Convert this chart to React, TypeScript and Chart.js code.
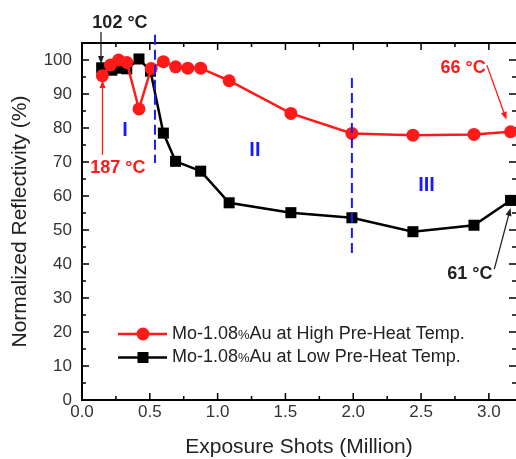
import React, { useEffect, useRef } from 'react';
import { Chart, registerables } from 'chart.js';
Chart.register(...registerables);

const FONT = "'Liberation Sans', Arial, sans-serif";

const highX = [0.15, 0.21, 0.27, 0.33, 0.42, 0.51, 0.6, 0.69, 0.78, 0.875, 1.085, 1.54, 1.99, 2.44, 2.89, 3.16];
const highY = [95.4, 98.5, 100, 99.3, 85.6, 97.5, 99.5, 98, 97.6, 97.6, 93.9, 84.3, 78.4, 77.9, 78.1, 78.9];
const lowX = [0.145, 0.22, 0.28, 0.33, 0.42, 0.505, 0.6, 0.69, 0.875, 1.085, 1.54, 1.99, 2.44, 2.89, 3.16];
const lowY = [97.7, 97.0, 97.6, 97.4, 100.3, 96.7, 78.5, 70.2, 67.3, 58, 55.1, 53.6, 49.5, 51.4, 58.7];

const seriesLabels = ['Mo-1.08%Au at High Pre-Heat Temp.', 'Mo-1.08%Au at Low Pre-Heat Temp.'];
const xTickMajor = [0, 0.5, 1, 1.5, 2, 2.5, 3];
const xTickMinor = [0.25, 0.75, 1.25, 1.75, 2.25, 2.75];
const yTickMajor = [0, 10, 20, 30, 40, 50, 60, 70, 80, 90, 100];
const yTickMinor = [5, 15, 25, 35, 45, 55, 65, 75, 85, 95];

// region dividers: [x, yFrom, yTo]
const dividers = [
  [0.538, 107.4, 69.7],
  [1.99, 94.7, 42.4],
];
const regionLabels = [
  { text: 'I', x: 0.317, y: 79.4 },
  { text: 'II', x: 1.275, y: 73.5 },
  { text: 'III', x: 2.54, y: 63.2 },
];
// temperature callouts: text position + arrow from/to (data coords)
const callouts = [
  { text: '102 °C', color: '#222', tx: 0.28, ty: 109.4, ax0: 0.14, ay0: 108.2, ax1: 0.14, ay1: 98.8 },
  { text: '187 °C', color: '#ff1a1a', tx: 0.265, ty: 66.8, ax0: 0.151, ay0: 72.1, ax1: 0.151, ay1: 94.1 },
  { text: '66 °C', color: '#ff1a1a', tx: 2.81, ty: 96.2, ax0: 2.985, ay0: 98.5, ax1: 3.13, ay1: 82.4 },
  { text: '61 °C', color: '#222', tx: 2.86, ty: 35.6, ax0: 3.04, ay0: 38.5, ax1: 3.16, ay1: 56.5 },
];

const RED = '#ff1a1a';
const BLACK = '#000000';
const BLUE = '#1a1aff';

function drawArrow(ctx: CanvasRenderingContext2D, x0: number, y0: number, x1: number, y1: number, color: string) {
  const ang = Math.atan2(y1 - y0, x1 - x0);
  const hl = 8, hw = 3;
  ctx.save();
  ctx.strokeStyle = color;
  ctx.fillStyle = color;
  ctx.lineWidth = 1.3;
  ctx.beginPath();
  ctx.moveTo(x0, y0);
  ctx.lineTo(x1 - Math.cos(ang) * hl * 0.8, y1 - Math.sin(ang) * hl * 0.8);
  ctx.stroke();
  ctx.beginPath();
  ctx.moveTo(x1, y1);
  ctx.lineTo(x1 - Math.cos(ang) * hl + Math.sin(ang) * hw, y1 - Math.sin(ang) * hl - Math.cos(ang) * hw);
  ctx.lineTo(x1 - Math.cos(ang) * hl - Math.sin(ang) * hw, y1 - Math.sin(ang) * hl + Math.cos(ang) * hw);
  ctx.closePath();
  ctx.fill();
  ctx.restore();
}

const framePlugin = {
  id: 'frame',
  beforeDatasetsDraw(chart: any) {
    const { ctx, chartArea } = chart;
    const { left, right, top, bottom } = chartArea;
    const xs = chart.scales.x, ys = chart.scales.y;
    ctx.save();
    ctx.strokeStyle = '#000';
    ctx.lineWidth = 2;
    ctx.beginPath();
    ctx.moveTo(left, top); ctx.lineTo(right + 2, top);
    ctx.moveTo(left, top - 1); ctx.lineTo(left, bottom + 1);
    ctx.moveTo(left - 1, bottom); ctx.lineTo(right + 2, bottom);
    ctx.stroke();
    ctx.lineWidth = 1.5;
    ctx.beginPath();
    const tick = (vals: number[], len: number) => {
      for (const v of vals) {
        const px = xs.getPixelForValue(v);
        ctx.moveTo(px, bottom); ctx.lineTo(px, bottom - len);
        ctx.moveTo(px, top); ctx.lineTo(px, top + len);
      }
    };
    tick(xTickMajor, 7); tick(xTickMinor, 4);
    const ytick = (vals: number[], len: number) => {
      for (const v of vals) {
        const py = ys.getPixelForValue(v);
        ctx.moveTo(left, py); ctx.lineTo(left + len, py);
        ctx.moveTo(right, py); ctx.lineTo(right - len, py);
      }
    };
    ytick(yTickMajor, 7); ytick(yTickMinor, 4);
    ctx.stroke();
    ctx.restore();
  },
  afterDatasetsDraw(chart: any) {
    const { ctx, chartArea } = chart;
    const xs = chart.scales.x, ys = chart.scales.y;
    ctx.save();
    // dividers
    ctx.strokeStyle = BLUE;
    ctx.lineWidth = 2;
    ctx.setLineDash([10, 5]);
    for (const [x, y0, y1] of dividers) {
      const px = xs.getPixelForValue(x);
      ctx.beginPath();
      ctx.moveTo(px, ys.getPixelForValue(y0));
      ctx.lineTo(px, ys.getPixelForValue(y1));
      ctx.stroke();
    }
    ctx.setLineDash([]);
    // region labels
    ctx.fillStyle = BLUE;
    ctx.font = `bold 20px ${FONT}`;
    ctx.textAlign = 'center';
    ctx.textBaseline = 'middle';
    for (const r of regionLabels) {
      ctx.fillText(r.text, xs.getPixelForValue(r.x), ys.getPixelForValue(r.y));
    }
    // callouts
    ctx.font = `bold 18px ${FONT}`;
    ctx.textBaseline = 'alphabetic';
    for (const c of callouts) {
      ctx.fillStyle = c.color;
      ctx.fillText(c.text, xs.getPixelForValue(c.tx), ys.getPixelForValue(c.ty));
      drawArrow(ctx, xs.getPixelForValue(c.ax0), ys.getPixelForValue(c.ay0), xs.getPixelForValue(c.ax1), ys.getPixelForValue(c.ay1), c.color);
    }
    // legend
    const { left, bottom } = chartArea;
    const colors = [RED, BLACK];
    const rowY = [bottom - 66, bottom - 42.5];
    for (let i = 0; i < seriesLabels.length; i++) {
      const y = rowY[i];
      ctx.strokeStyle = colors[i];
      ctx.fillStyle = colors[i];
      ctx.lineWidth = 2.5;
      ctx.beginPath();
      ctx.moveTo(left + 36, y); ctx.lineTo(left + 85, y);
      ctx.stroke();
      const mx = left + 61;
      if (i === 0) {
        ctx.beginPath(); ctx.arc(mx, y, 6.5, 0, Math.PI * 2); ctx.fill();
      } else {
        ctx.fillRect(mx - 5.5, y - 5.5, 11, 11);
      }
      const parts = seriesLabels[i].split('%');
      ctx.fillStyle = '#222';
      ctx.textAlign = 'left';
      ctx.textBaseline = 'middle';
      let tx = left + 90;
      ctx.font = `18px ${FONT}`;
      ctx.fillText(parts[0], tx, y);
      tx += ctx.measureText(parts[0]).width;
      ctx.font = `13px ${FONT}`;
      ctx.fillText('%', tx, y + 1);
      tx += ctx.measureText('%').width;
      ctx.font = `18px ${FONT}`;
      ctx.fillText(parts[1], tx, y);
    }
    ctx.restore();
  },
};

export default function App() {
  const ref = useRef<HTMLCanvasElement>(null);
  useEffect(() => {
    document.body.style.margin = '0';
    const canvas = ref.current!;
    const chart = new Chart(canvas, {
      type: 'line',
      data: {
        datasets: [
          {
            label: seriesLabels[0],
            data: highX.map((x, i) => ({ x, y: highY[i] })),
            borderColor: RED,
            backgroundColor: RED,
            borderWidth: 2.5,
            pointStyle: 'circle',
            pointRadius: 6.5,
            pointBorderWidth: 0,
            tension: 0,
          },
          {
            label: seriesLabels[1],
            data: lowX.map((x, i) => ({ x, y: lowY[i] })),
            borderColor: BLACK,
            backgroundColor: BLACK,
            borderWidth: 2.5,
            pointStyle: 'rect',
            pointRadius: 7.8,
            pointBorderWidth: 0,
            tension: 0,
          },
        ],
      },
      options: {
        animation: false,
        responsive: false,
        devicePixelRatio: 1,
        layout: { autoPadding: false, padding: { top: 43, right: 0, left: 0, bottom: 0 } },
        plugins: { legend: { display: false }, tooltip: { enabled: false } },
        scales: {
          x: {
            type: 'linear',
            min: 0,
            max: 3.2,
            grid: { display: false, drawTicks: false },
            border: { display: false },
            ticks: {
              stepSize: 0.5,
              includeBounds: false,
              padding: 2,
              color: '#333',
              maxRotation: 0,
              autoSkip: false,
              font: { family: FONT, size: 17 },
              callback: (v: any) => Number(v).toFixed(1),
            },
            title: {
              display: true,
              text: 'Exposure Shots (Million)',
              color: '#222',
              font: { family: FONT, size: 21, lineHeight: 1.1 },
              padding: { top: 0, bottom: 0 },
            },
            afterFit: (s: any) => { s.height = 59; },
          },
          y: {
            type: 'linear',
            min: 0,
            max: 105,
            grid: { display: false, drawTicks: false },
            border: { display: false },
            ticks: {
              stepSize: 10,
              includeBounds: false,
              padding: 10,
              color: '#333',
              font: { family: FONT, size: 17 },
            },
            title: {
              display: true,
              text: 'Normalized Reflectivity (%)',
              color: '#222',
              font: { family: FONT, size: 21 },
              padding: { top: 8, bottom: 0 },
            },
            afterFit: (s: any) => { s.width = 82; },
          },
        },
      },
      plugins: [framePlugin],
    });
    return () => chart.destroy();
  }, []);
  return (
    <div style={{ width: 516, height: 459 }}>
      <canvas ref={ref} width={516} height={459} style={{ display: 'block' }} />
    </div>
  );
}
